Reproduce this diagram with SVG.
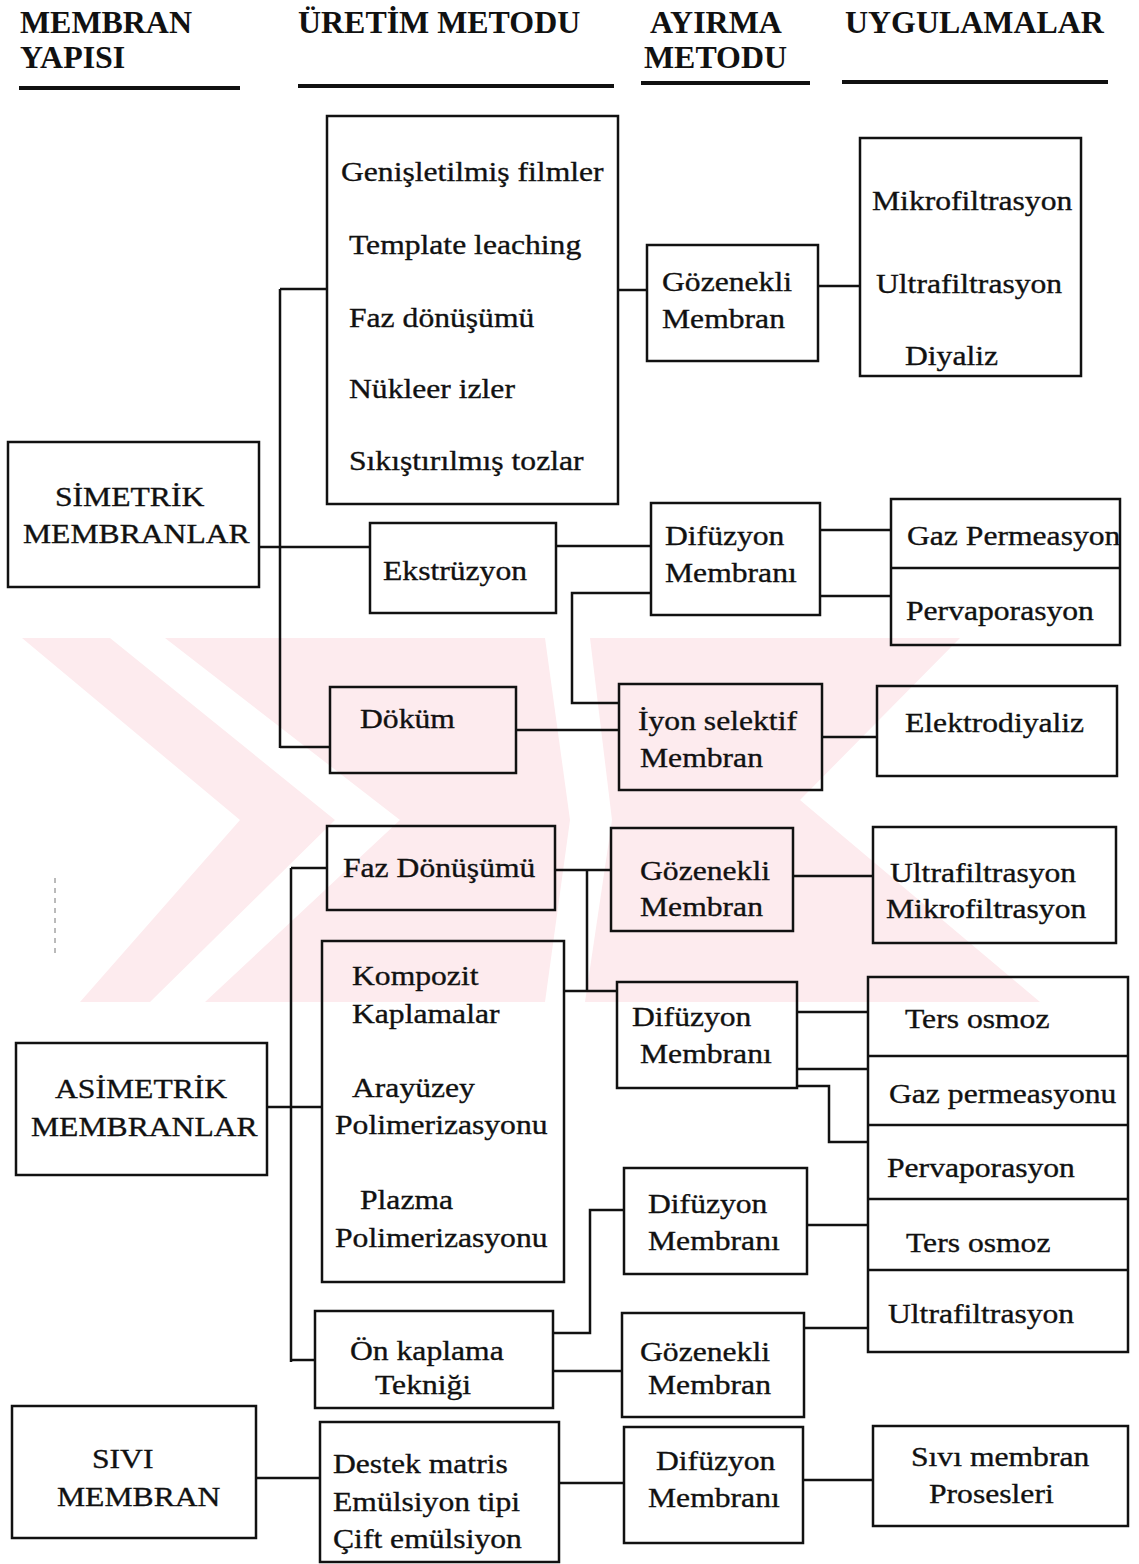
<svg xmlns="http://www.w3.org/2000/svg" width="1139" height="1564" viewBox="0 0 1139 1564">
<style>
.box{fill:none;stroke:#111;stroke-width:2.5}
.ln{fill:none;stroke:#111;stroke-width:2.5}
.ul{fill:none;stroke:#111;stroke-width:4}
text{font-family:"Liberation Serif","Times New Roman",serif;fill:#111}
.t{font-size:28px;stroke:#111;stroke-width:0.35}
.h{font-size:31px;font-weight:bold}
.wm{fill:#fdebee}
.wg{fill:#ffffff}
</style>
<rect x="0" y="0" width="1139" height="1564" fill="#ffffff"/>
<g id="watermark">
<polygon class="wm" points="22,638 960,638 800,800 1040,1002 80,1002 240,820"/>
<polygon class="wg" points="110,638 165,638 400,820 205,1002 150,1002 335,820"/>
<polygon class="wg" points="545,638 590,638 612,820 585,1002 545,1002 570,820"/>
<line x1="55" y1="878" x2="55" y2="955" stroke="#777" stroke-width="1" stroke-dasharray="5 5"/>
</g>
<g id="headers">
<text class="h" transform="matrix(1.03,0,0,1,20,33)">MEMBRAN</text>
<text class="h" transform="matrix(1.03,0,0,1,20,68)">YAPISI</text>
<line class="ul" x1="19" y1="88" x2="240" y2="88"/>
<text class="h" transform="matrix(1.03,0,0,1,298,33)">ÜRETİM METODU</text>
<line class="ul" x1="298" y1="86" x2="614" y2="86"/>
<text class="h" transform="matrix(1.03,0,0,1,650,33)">AYIRMA</text>
<text class="h" transform="matrix(1.03,0,0,1,644,68)">METODU</text>
<line class="ul" x1="641" y1="83" x2="810" y2="83"/>
<text class="h" transform="matrix(1.03,0,0,1,845,33)">UYGULAMALAR</text>
<line class="ul" x1="842" y1="82" x2="1108" y2="82"/>
</g>
<g id="connectors">
<path class="ln" d="M280,289 V748 M280,289 H327 M259,547 H370 M280,747 H330"/>
<path class="ln" d="M618,290 H647"/>
<path class="ln" d="M818,286 H860"/>
<path class="ln" d="M556,546 H651"/>
<path class="ln" d="M820,530 H891 M820,596 H891"/>
<path class="ln" d="M651,593 H572 V703 H619"/>
<path class="ln" d="M516,730 H619"/>
<path class="ln" d="M822,737 H877"/>
<path class="ln" d="M291,868 V1362 M291,868 H327 M267,1107 H322 M291,1360 H315"/>
<path class="ln" d="M555,870 H611 M587,870 V991 M564,991 H617"/>
<path class="ln" d="M793,876 H873"/>
<path class="ln" d="M797,1012 H868 M797,1069 H868 M797,1086 H829 V1142 H868"/>
<path class="ln" d="M553,1333 H590 V1210 H624"/>
<path class="ln" d="M553,1371 H622"/>
<path class="ln" d="M807,1225 H868"/>
<path class="ln" d="M804,1328 H868"/>
<path class="ln" d="M256,1478 H320"/>
<path class="ln" d="M559,1483 H624"/>
<path class="ln" d="M803,1480 H873"/>
</g>
<g id="n-uretim1">
<rect class="box" x="327" y="116" width="291" height="388"/>
<text class="t" transform="matrix(1.13,0,0,1,341,181)">Genişletilmiş filmler</text>
<text class="t" transform="matrix(1.13,0,0,1,349,254)">Template leaching</text>
<text class="t" transform="matrix(1.13,0,0,1,349,327)">Faz dönüşümü</text>
<text class="t" transform="matrix(1.13,0,0,1,349,398)">Nükleer izler</text>
<text class="t" transform="matrix(1.13,0,0,1,349,470)">Sıkıştırılmış tozlar</text>
</g>
<g id="n-gozenekli1">
<rect class="box" x="647" y="245" width="171" height="116"/>
<text class="t" transform="matrix(1.13,0,0,1,662,291)">Gözenekli</text>
<text class="t" transform="matrix(1.13,0,0,1,662,328)">Membran</text>
</g>
<g id="n-uygulama1">
<rect class="box" x="860" y="138" width="221" height="238"/>
<text class="t" transform="matrix(1.13,0,0,1,872,210)">Mikrofiltrasyon</text>
<text class="t" transform="matrix(1.13,0,0,1,876,293)">Ultrafiltrasyon</text>
<text class="t" transform="matrix(1.13,0,0,1,905,365)">Diyaliz</text>
</g>
<g id="n-simetrik">
<rect class="box" x="8" y="442" width="251" height="145"/>
<text class="t" transform="matrix(1.13,0,0,1,55,506)">SİMETRİK</text>
<text class="t" transform="matrix(1.13,0,0,1,23,543)">MEMBRANLAR</text>
</g>
<g id="n-ekstruzyon">
<rect class="box" x="370" y="523" width="186" height="90"/>
<text class="t" transform="matrix(1.13,0,0,1,383,580)">Ekstrüzyon</text>
</g>
<g id="n-difuzyon1">
<rect class="box" x="651" y="503" width="169" height="112"/>
<text class="t" transform="matrix(1.13,0,0,1,665,545)">Difüzyon</text>
<text class="t" transform="matrix(1.13,0,0,1,665,582)">Membranı</text>
</g>
<g id="n-gazperv">
<rect class="box" x="891" y="499" width="229" height="146"/>
<line class="box" x1="891" y1="568" x2="1120" y2="568"/>
<text class="t" transform="matrix(1.13,0,0,1,907,545)">Gaz Permeasyon</text>
<text class="t" transform="matrix(1.13,0,0,1,906,620)">Pervaporasyon</text>
</g>
<g id="n-dokum">
<rect class="box" x="330" y="687" width="186" height="86"/>
<text class="t" transform="matrix(1.13,0,0,1,360,728)">Döküm</text>
</g>
<g id="n-iyon">
<rect class="box" x="619" y="684" width="203" height="106"/>
<text class="t" transform="matrix(1.13,0,0,1,638,730)">İyon selektif</text>
<text class="t" transform="matrix(1.13,0,0,1,640,767)">Membran</text>
</g>
<g id="n-elektro">
<rect class="box" x="877" y="686" width="240" height="90"/>
<text class="t" transform="matrix(1.13,0,0,1,905,732)">Elektrodiyaliz</text>
</g>
<g id="n-faz2">
<rect class="box" x="327" y="826" width="228" height="84"/>
<text class="t" transform="matrix(1.13,0,0,1,343,877)">Faz Dönüşümü</text>
</g>
<g id="n-gozenekli2">
<rect class="box" x="611" y="828" width="182" height="103"/>
<text class="t" transform="matrix(1.13,0,0,1,640,880)">Gözenekli</text>
<text class="t" transform="matrix(1.13,0,0,1,640,916)">Membran</text>
</g>
<g id="n-uygulama2">
<rect class="box" x="873" y="827" width="243" height="116"/>
<text class="t" transform="matrix(1.13,0,0,1,890,882)">Ultrafiltrasyon</text>
<text class="t" transform="matrix(1.13,0,0,1,886,918)">Mikrofiltrasyon</text>
</g>
<g id="n-kompozit">
<rect class="box" x="322" y="941" width="242" height="341"/>
<text class="t" transform="matrix(1.13,0,0,1,352,985)">Kompozit</text>
<text class="t" transform="matrix(1.13,0,0,1,352,1023)">Kaplamalar</text>
<text class="t" transform="matrix(1.13,0,0,1,352,1097)">Arayüzey</text>
<text class="t" transform="matrix(1.13,0,0,1,335,1134)">Polimerizasyonu</text>
<text class="t" transform="matrix(1.13,0,0,1,360,1209)">Plazma</text>
<text class="t" transform="matrix(1.13,0,0,1,335,1247)">Polimerizasyonu</text>
</g>
<g id="n-asimetrik">
<rect class="box" x="16" y="1043" width="251" height="132"/>
<text class="t" transform="matrix(1.13,0,0,1,55,1098)">ASİMETRİK</text>
<text class="t" transform="matrix(1.13,0,0,1,31,1136)">MEMBRANLAR</text>
</g>
<g id="n-difuzyon2">
<rect class="box" x="617" y="982" width="180" height="106"/>
<text class="t" transform="matrix(1.13,0,0,1,632,1026)">Difüzyon</text>
<text class="t" transform="matrix(1.13,0,0,1,640,1063)">Membranı</text>
</g>
<g id="n-uygulama3">
<rect class="box" x="868" y="977" width="260" height="375"/>
<path class="box" d="M868,1056 H1128 M868,1125 H1128 M868,1199 H1128 M868,1270 H1128"/>
<text class="t" transform="matrix(1.13,0,0,1,905,1028)">Ters osmoz</text>
<text class="t" transform="matrix(1.13,0,0,1,889,1103)">Gaz permeasyonu</text>
<text class="t" transform="matrix(1.13,0,0,1,887,1177)">Pervaporasyon</text>
<text class="t" transform="matrix(1.13,0,0,1,906,1252)">Ters osmoz</text>
<text class="t" transform="matrix(1.13,0,0,1,888,1323)">Ultrafiltrasyon</text>
</g>
<g id="n-difuzyon3">
<rect class="box" x="624" y="1168" width="183" height="106"/>
<text class="t" transform="matrix(1.13,0,0,1,648,1213)">Difüzyon</text>
<text class="t" transform="matrix(1.13,0,0,1,648,1250)">Membranı</text>
</g>
<g id="n-onkaplama">
<rect class="box" x="315" y="1311" width="238" height="97"/>
<text class="t" transform="matrix(1.13,0,0,1,350,1360)">Ön kaplama</text>
<text class="t" transform="matrix(1.13,0,0,1,375,1394)">Tekniği</text>
</g>
<g id="n-gozenekli3">
<rect class="box" x="622" y="1313" width="182" height="104"/>
<text class="t" transform="matrix(1.13,0,0,1,640,1361)">Gözenekli</text>
<text class="t" transform="matrix(1.13,0,0,1,648,1394)">Membran</text>
</g>
<g id="n-sivi">
<rect class="box" x="12" y="1406" width="244" height="132"/>
<text class="t" transform="matrix(1.13,0,0,1,92,1468)">SIVI</text>
<text class="t" transform="matrix(1.13,0,0,1,57,1506)">MEMBRAN</text>
</g>
<g id="n-destek">
<rect class="box" x="320" y="1422" width="239" height="140"/>
<text class="t" transform="matrix(1.13,0,0,1,333,1473)">Destek matris</text>
<text class="t" transform="matrix(1.13,0,0,1,333,1511)">Emülsiyon tipi</text>
<text class="t" transform="matrix(1.13,0,0,1,333,1548)">Çift emülsiyon</text>
</g>
<g id="n-difuzyon4">
<rect class="box" x="624" y="1427" width="179" height="116"/>
<text class="t" transform="matrix(1.13,0,0,1,656,1470)">Difüzyon</text>
<text class="t" transform="matrix(1.13,0,0,1,648,1507)">Membranı</text>
</g>
<g id="n-sivimembran">
<rect class="box" x="873" y="1426" width="255" height="100"/>
<text class="t" transform="matrix(1.13,0,0,1,911,1466)">Sıvı membran</text>
<text class="t" transform="matrix(1.13,0,0,1,929,1503)">Prosesleri</text>
</g>
</svg>
